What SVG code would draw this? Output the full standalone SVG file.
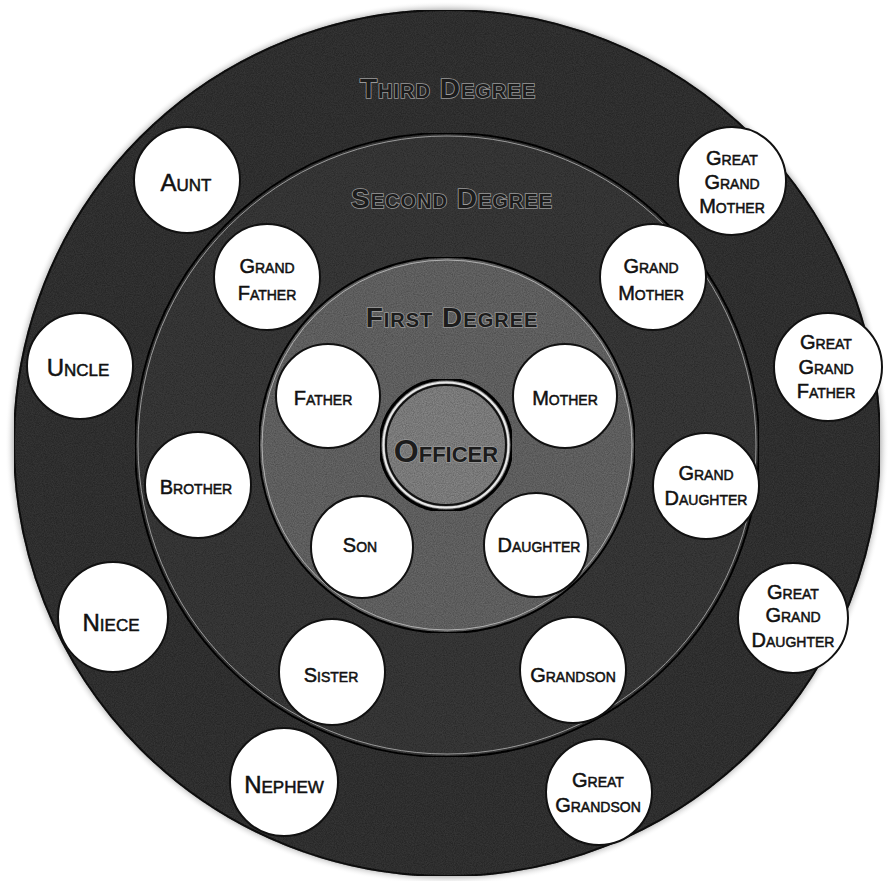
<svg xmlns="http://www.w3.org/2000/svg" width="894" height="881" viewBox="0 0 894 881">
<defs>
<filter id="grain" x="0" y="0" width="100%" height="100%">
<feTurbulence type="fractalNoise" baseFrequency="0.9" numOctaves="2" seed="3" result="n"/>
<feColorMatrix in="n" type="matrix" values="0 0 0 0 0  0 0 0 0 0  0 0 0 0 0  0 0 0 0.7 -0.1" result="dark"/>
<feComposite in="dark" in2="SourceGraphic" operator="in" result="d"/>
<feMerge><feMergeNode in="SourceGraphic"/><feMergeNode in="d"/></feMerge>
</filter>
<radialGradient id="halo" cx="0.5" cy="0.5" r="0.5">
<stop offset="0.97" stop-color="#777"/>
<stop offset="1" stop-color="#fff" stop-opacity="0"/>
</radialGradient>
</defs>
<style>
.node circle{fill:#fff;stroke:#111;stroke-width:2}
.lbl{font-family:"Liberation Sans","DejaVu Sans",sans-serif;font-variant:small-caps;fill:#111;stroke:#111;stroke-width:0.5;text-anchor:middle;font-size:20px}
.big{font-size:24px}
.deg{font-family:"Liberation Sans","DejaVu Sans",sans-serif;font-variant:small-caps;font-weight:bold;fill:#1c1c1c;stroke:#999;stroke-width:1.6;paint-order:stroke;text-anchor:middle;font-size:28px;letter-spacing:1px}
</style>
<rect width="894" height="881" fill="#fff"/>
<g id="rings">
<circle cx="447" cy="443" r="442" fill="url(#halo)"/>
<circle cx="447" cy="443" r="433" fill="#383838" stroke="#151515" stroke-width="2" filter="url(#grain)"/>
<circle cx="447" cy="445" r="312" fill="#3c3c3c" stroke="#111" stroke-width="2" filter="url(#grain)"/>
<circle cx="447" cy="445" r="309" fill="none" stroke="#9a9a9a" stroke-width="1"/>
<circle cx="447" cy="445" r="188" fill="#6c6c6c" stroke="#111" stroke-width="2" filter="url(#grain)"/>
<circle cx="447" cy="445" r="185" fill="none" stroke="#b0b0b0" stroke-width="1"/>
</g>
<g id="officer">
<circle cx="446" cy="445" r="66" fill="#8a8a8a" stroke="#111" stroke-width="3" filter="url(#grain)"/>
<circle cx="446" cy="445" r="62.5" fill="none" stroke="#e8e8e8" stroke-width="2"/>
<circle cx="446" cy="445" r="60" fill="none" stroke="#111" stroke-width="2"/>
<text class="deg" x="446" y="462" style="font-size:32px;letter-spacing:0">Officer</text>
</g>
<g id="degree-labels">
<text class="deg" x="448" y="98">Third Degree</text>
<text class="deg" x="452" y="208">Second Degree</text>
<text class="deg" x="452" y="327">First Degree</text>
</g>
<g id="aunt" class="node"><circle cx="187" cy="180" r="53"/><text class="lbl big" x="186" y="191">Aunt</text></g>
<g id="great-grand-mother" class="node"><circle cx="732" cy="181" r="54"/><text class="lbl" x="732" y="165">Great</text><text class="lbl" x="732" y="189">Grand</text><text class="lbl" x="732" y="213">Mother</text></g>
<g id="grand-father" class="node"><circle cx="267" cy="277" r="53"/><text class="lbl" x="267" y="273">Grand</text><text class="lbl" x="267" y="300">Father</text></g>
<g id="grand-mother" class="node"><circle cx="653" cy="277" r="53"/><text class="lbl" x="651" y="273">Grand</text><text class="lbl" x="651" y="300">Mother</text></g>
<g id="uncle" class="node"><circle cx="80" cy="366" r="53"/><text class="lbl big" x="78" y="376">Uncle</text></g>
<g id="great-grand-father" class="node"><circle cx="828" cy="367" r="54"/><text class="lbl" x="826" y="349">Great</text><text class="lbl" x="826" y="374">Grand</text><text class="lbl" x="826" y="398">Father</text></g>
<g id="father" class="node"><circle cx="328" cy="396" r="52"/><text class="lbl" x="323" y="405">Father</text></g>
<g id="mother" class="node"><circle cx="565" cy="396" r="52"/><text class="lbl" x="565" y="405">Mother</text></g>
<g id="brother" class="node"><circle cx="198" cy="485" r="53"/><text class="lbl" x="196" y="494">Brother</text></g>
<g id="grand-daughter" class="node"><circle cx="706" cy="486" r="53"/><text class="lbl" x="706" y="480">Grand</text><text class="lbl" x="706" y="505">Daughter</text></g>
<g id="son" class="node"><circle cx="362" cy="547" r="51"/><text class="lbl" x="360" y="552">Son</text></g>
<g id="daughter" class="node"><circle cx="536" cy="545" r="52"/><text class="lbl" x="539" y="552">Daughter</text></g>
<g id="niece" class="node"><circle cx="113" cy="617" r="55"/><text class="lbl big" x="111" y="631">Niece</text></g>
<g id="great-grand-daughter" class="node"><circle cx="793" cy="618" r="55"/><text class="lbl" x="793" y="599">Great</text><text class="lbl" x="793" y="622">Grand</text><text class="lbl" x="793" y="647">Daughter</text></g>
<g id="sister" class="node"><circle cx="332" cy="672" r="53"/><text class="lbl" x="331" y="682">Sister</text></g>
<g id="grandson" class="node"><circle cx="573" cy="670" r="53"/><text class="lbl" x="573" y="682">Grandson</text></g>
<g id="nephew" class="node"><circle cx="284" cy="782" r="54"/><text class="lbl big" x="284" y="793">Nephew</text></g>
<g id="great-grandson" class="node"><circle cx="599" cy="792" r="53"/><text class="lbl" x="598" y="787">Great</text><text class="lbl" x="598" y="812">Grandson</text></g>
<g id="connectors"/>
</svg>
